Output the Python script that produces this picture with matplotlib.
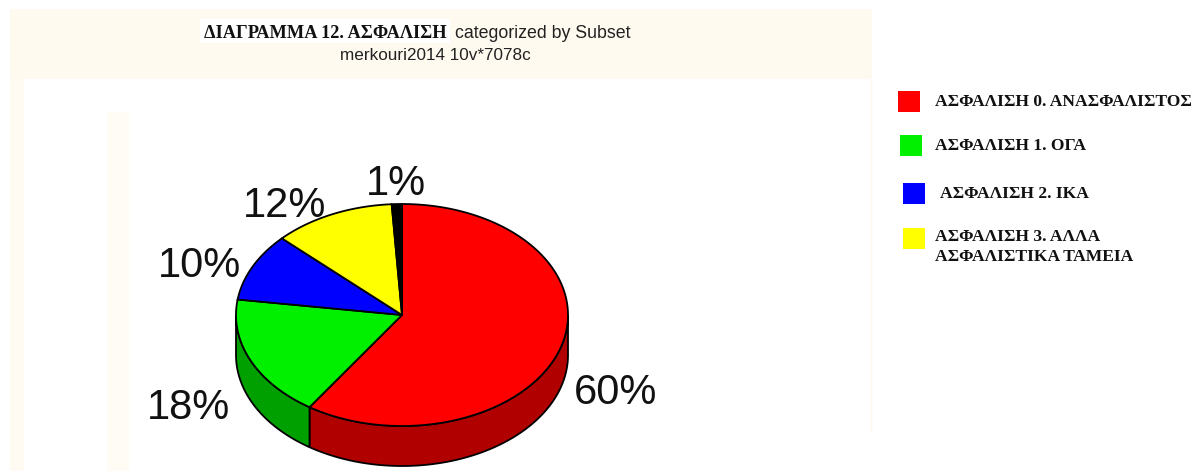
import numpy as np
import matplotlib
matplotlib.use("Agg")
import matplotlib.pyplot as plt
from matplotlib.patches import Polygon, Rectangle

# --- data -------------------------------------------------------------
categories = [
    "ΑΣΦΑΛΙΣΗ 0. ΑΝΑΣΦΑΛΙΣΤΟΣ",
    "ΑΣΦΑΛΙΣΗ 1. ΟΓΑ",
    "ΑΣΦΑΛΙΣΗ 2. ΙΚΑ",
    "ΑΣΦΑΛΙΣΗ 3. ΑΛΛΑ\nΑΣΦΑΛΙΣΤΙΚΑ ΤΑΜΕΙΑ",
    None,
]
percents = [60, 18, 10, 12, 1]
top_colors = ["#ff0000", "#00f000", "#0000ff", "#ffff00", "#000000"]
side_colors = ["#b00000", "#00a000", "#0000a0", "#b0b000", "#000000"]

title_bold = "ΔΙΑΓΡΑΜΜΑ 12. ΑΣΦΑΛΙΣΗ"
title_rest = "categorized by Subset"
subtitle = "merkouri2014 10v*7078c"

# --- figure in pixel coordinates --------------------------------------
W, H = 1204, 477
fig = plt.figure(figsize=(W / 100, H / 100), dpi=100)
ax = fig.add_axes([0, 0, 1, 1])
ax.set_xlim(0, W)
ax.set_ylim(H, 0)
ax.axis("off")

# panel backgrounds
ax.add_patch(Rectangle((10, 10), 862, 70, facecolor="#fffaef", edgecolor="none", zorder=0))
ax.add_patch(Rectangle((10, 80), 14, 392, facecolor="#fffbf2", edgecolor="none", zorder=0))
ax.add_patch(Rectangle((107, 113), 22, 359, facecolor="#fffcf5", edgecolor="none", zorder=0))
ax.add_patch(Rectangle((200, 20), 250, 24, facecolor="#ffffff", edgecolor="none", zorder=0))
ax.plot([871, 871], [80, 432], color="#fdf9f1", lw=1, zorder=0)

# --- titles -----------------------------------------------------------
serif_bold = dict(family=["Liberation Serif", "DejaVu Serif"], weight="bold")
ax.text(447, 33, title_bold, ha="right", va="center", fontsize=13.2,
        color="#111111", **serif_bold)
ax.text(455, 33, title_rest, ha="left", va="center", fontsize=12.8,
        family=["Liberation Sans", "DejaVu Sans"], color="#222222")
ax.text(435, 56, subtitle, ha="center", va="center", fontsize=12.3,
        family=["Liberation Sans", "DejaVu Sans"], color="#222222")

# --- 3D pie -----------------------------------------------------------
cx, cy, rx, ry, depth = 402, 316, 166, 111, 40
vals = np.array(percents, dtype=float)
fracs = vals / vals.sum()
bounds = 90 - 360 * np.concatenate([[0], np.cumsum(fracs)])  # clockwise from 12 o'clock


def ellipse_pts(t0, t1, n=200, dy=0.0):
    t = np.radians(np.linspace(t0, t1, n))
    return np.column_stack([cx + rx * np.cos(t), cy - ry * np.sin(t) + dy])


# side walls: visible for the front half (parametric angles 180..360)
for i in range(len(vals)):
    a_hi, a_lo = bounds[i], bounds[i + 1]
    lo = a_lo % 360
    hi = lo + (a_hi - a_lo)
    s0, s1 = max(lo, 180), min(hi, 360)
    if s1 <= s0:
        s0, s1 = max(lo - 360, -180), min(hi - 360, 0)
        if s1 <= s0:
            continue
    topa = ellipse_pts(s0, s1)
    bot = ellipse_pts(s1, s0, dy=depth)
    ax.add_patch(Polygon(np.vstack([topa, bot]), closed=True,
                         facecolor=side_colors[i], edgecolor="black",
                         lw=1.3, zorder=2))

# top faces
for i in range(len(vals)):
    arc = ellipse_pts(bounds[i], bounds[i + 1])
    pts = np.vstack([[cx, cy], arc])
    ax.add_patch(Polygon(pts, closed=True, facecolor=top_colors[i],
                         edgecolor="black", lw=1.3, zorder=3))

# percentage labels
for i in range(len(vals)):
    mid = np.radians((bounds[i] + bounds[i + 1]) / 2)
    c, s = np.cos(mid), np.sin(mid)
    x = cx + 1.08 * rx * c
    y = cy - 1.15 * ry * s + (depth if s < 0 else 0) + (6 if s > 0 else 0)
    ha = "left" if c > 0.3 else ("right" if c < -0.3 else "center")
    if ha == "center":
        y -= 10
    if s < 0 and c < 0:
        x -= 8
    ax.text(x, y, f"{percents[i]}%", ha=ha, va="center", fontsize=30,
            family=["Liberation Sans", "DejaVu Sans"], color="#111111", zorder=4)

# --- legend -----------------------------------------------------------
leg_rows = [102, 146, 194, 239]
leg_box_x = [898, 900, 903, 903]
leg_text_x = [935, 935, 940, 935]
leg_text_y = [102, 146, 194, 247]
for i, lab in enumerate(categories):
    if lab is None:
        continue
    ax.add_patch(Rectangle((leg_box_x[i], leg_rows[i] - 10), 22, 21,
                           facecolor=top_colors[i], edgecolor="none", zorder=3))
    ax.text(leg_text_x[i], leg_text_y[i], lab,
            ha="left", va="center", fontsize=12.6, color="#111111",
            linespacing=1.3, **serif_bold)

fig.savefig("out.png", dpi=100)
